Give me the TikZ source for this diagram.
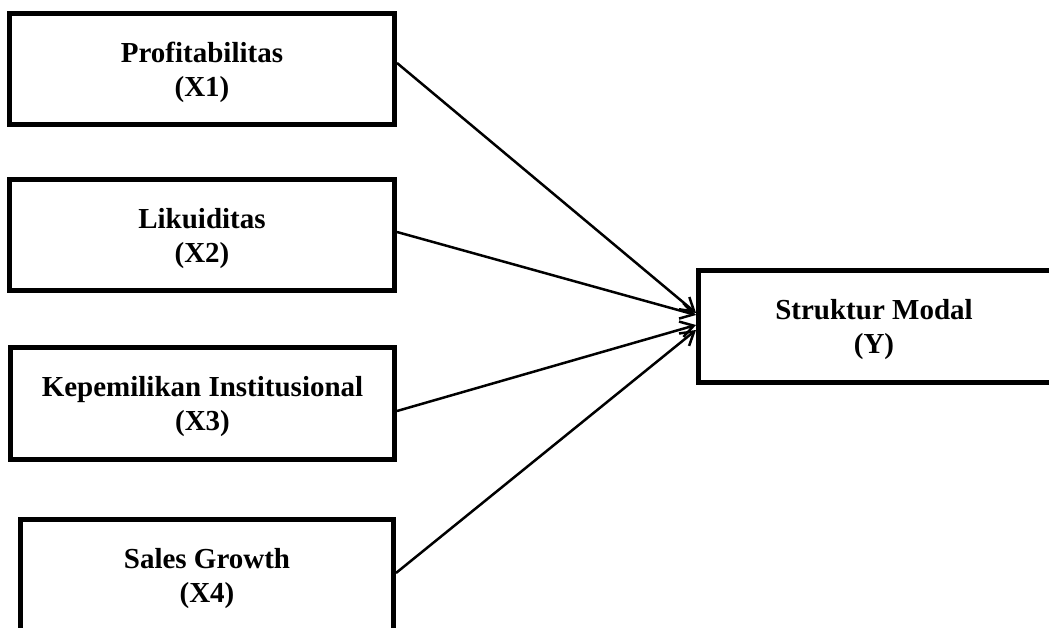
\documentclass[tikz,border=0pt]{standalone}
\usepackage{fontspec}
\setmainfont{Liberation Serif}
\usetikzlibrary{arrows.meta}
\begin{document}
\begin{tikzpicture}[x=1pt,y=-1pt,
  boxtext/.style={rectangle, align=center, text depth=0pt,
    font=\fontsize{29}{34}\selectfont\bfseries, inner sep=0pt},
  varbox/.style={boxtext, draw=black, line width=5pt},
  frame/.style={draw=black, line width=5pt},
  link/.style={line width=2.5pt, -{Straight Barb[length=13pt,width=16pt,line width=2.5pt]}}]
\useasboundingbox (0,0) rectangle (1049,628);
\clip (0,0) rectangle (1049,628);
\node[varbox, minimum width=385pt, minimum height=111pt] (b1) at (202,69) {Profitabilitas\\(X1)};
\node[varbox, minimum width=385pt, minimum height=111pt] (b2) at (202,235) {Likuiditas\\(X2)};
\node[varbox, minimum width=384pt, minimum height=112pt] (b3) at (202.5,403.5) {Kepemilikan Institusional\\(X3)};
\node[varbox, minimum width=373pt, minimum height=112pt] (b4) at (207,575.5) {Sales Growth\\(X4)};
\node[boxtext, outer sep=0pt, minimum width=351pt, minimum height=112pt] (y) at (874,326.5) {Struktur Modal\\(Y)};
\draw[frame] (y.north west) rectangle ([xshift=20pt]y.south east);
\draw[link] ([yshift=6pt]b1.east) -- ([xshift=-2.5pt,yshift=13.5pt]y.west);
\draw[link] ([yshift=3pt]b2.east) -- ([xshift=-2.5pt,yshift=11.5pt]y.west);
\draw[link] ([yshift=-7.5pt]b3.east) -- ([xshift=-2.5pt,yshift=1.5pt]y.west);
\draw[link] ([yshift=2.5pt]b4.east) -- ([xshift=-2.5pt,yshift=-3.5pt]y.west);
\end{tikzpicture}
\end{document}
